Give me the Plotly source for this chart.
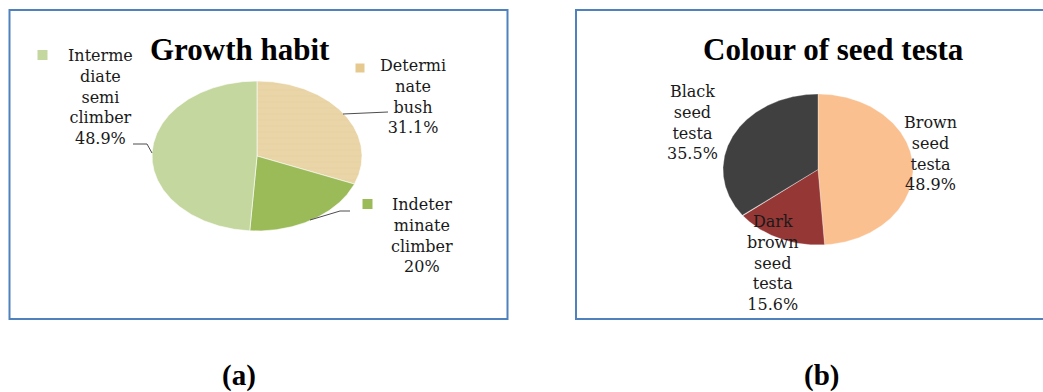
import numpy as np
import plotly.graph_objects as go

# ---- data -------------------------------------------------------------
growth_labels = ["Determi<br>nate<br>bush", "Indeter<br>minate<br>climber", "Interme<br>diate<br>semi<br>climber"]
growth_values = [31.1, 20.0, 48.9]
growth_colors = ["#E9D5A7", "#9BBB59", "#C4D79E"]

testa_labels = ["Brown<br>seed<br>testa", "Dark<br>brown<br>seed<br>testa", "Black<br>seed<br>testa"]
testa_values = [48.9, 15.6, 35.5]
testa_colors = ["#FAC090", "#953735", "#404040"]

W, H = 1043, 392


def px(x):
    return x / W


def py(y):
    return 1 - y / H


def wedge(start, frac, n_per_turn=720):
    """Polygon of a clockwise pie slice starting at 12 o'clock, unit circle."""
    a0 = np.pi / 2 - 2 * np.pi * start
    a1 = np.pi / 2 - 2 * np.pi * (start + frac)
    n = max(3, int(abs(frac) * n_per_turn))
    t = np.linspace(a0, a1, n)
    xs = np.concatenate([[0], np.cos(t), [0]])
    ys = np.concatenate([[0], np.sin(t), [0]])
    return xs, ys


fig = go.Figure()


def add_pie(values, colors, xaxis, yaxis, patterned=None, edge="rgba(255,255,255,0.6)"):
    total = float(sum(values))
    start = 0.0
    for i, (v, c) in enumerate(zip(values, colors)):
        frac = v / total
        xs, ys = wedge(start, frac)
        kw = {}
        if patterned is not None and i == patterned:
            kw["fillpattern"] = dict(shape="-", bgcolor=c, fgcolor="#DFC792",
                                     size=6, solidity=0.1)
        fig.add_trace(go.Scatter(
            x=xs, y=ys, mode="lines", fill="toself", fillcolor=c,
            line=dict(color=edge, width=1), xaxis=xaxis, yaxis=yaxis,
            hoverinfo="skip", showlegend=False, **kw))
        start += frac


add_pie(growth_values, growth_colors, "x", "y", patterned=0)
add_pie(testa_values, testa_colors, "x2", "y2", edge="rgba(255,255,255,0.3)")

axis_common = dict(visible=False, range=[-1, 1], fixedrange=True)
fig.update_layout(
    width=W, height=H,
    margin=dict(l=0, r=0, t=0, b=0),
    paper_bgcolor="white", plot_bgcolor="rgba(0,0,0,0)",
    xaxis=dict(domain=[px(152), px(362)], **axis_common),
    yaxis=dict(domain=[py(231), py(81)], **axis_common),
    xaxis2=dict(domain=[px(723), px(913)], **axis_common),
    yaxis2=dict(domain=[py(245), py(94)], **axis_common),
    showlegend=False,
)

label_font = dict(family="DejaVu Serif", size=16, color="#1a1a1a")
title_font = dict(family="Liberation Serif", size=31, color="black")
tag_font = dict(family="Liberation Serif", size=29, color="black")

annotations = []


def note(text, x, y, font, **kw):
    annotations.append(dict(text=text, x=px(x), y=py(y), xref="paper", yref="paper",
                            showarrow=False, xanchor="center", yanchor="middle",
                            align="center", font=font, **kw))


# titles
note("<b>Growth habit</b>", 239.5, 49.5, title_font)
note("<b>Colour of seed testa</b>", 833, 49.5, title_font)

# slice labels (a)
note(f"{growth_labels[2]}<br>{growth_values[2]:g}%", 100, 97, label_font)
note(f"{growth_labels[0]}<br>{growth_values[0]:g}%", 413, 96, label_font)
note(f"{growth_labels[1]}<br>{growth_values[1]:g}%", 422, 235, label_font)

# slice labels (b)
note(f"{testa_labels[0]}<br>{testa_values[0]:g}%", 930, 153, label_font)
note(f"{testa_labels[1]}<br>{testa_values[1]:g}%", 773, 263, label_font)
note(f"{testa_labels[2]}<br>{testa_values[2]:g}%", 692, 122, label_font)

# panel tags
note("<b>(a)</b>", 239, 375, tag_font)
note("<b>(b)</b>", 821, 375, tag_font)

shapes = []
border = "#4F81BD"
# panel frames
shapes.append(dict(type="rect", xref="paper", yref="paper",
                   x0=px(9.5), x1=px(507.5), y0=py(319), y1=py(10),
                   line=dict(color=border, width=2)))
shapes.append(dict(type="rect", xref="paper", yref="paper",
                   x0=px(576), x1=px(1050), y0=py(319), y1=py(10),
                   line=dict(color=border, width=2)))


def leader(points):
    path = "M " + " L ".join(f"{px(x)},{py(y)}" for x, y in points)
    shapes.append(dict(type="path", xref="paper", yref="paper", path=path,
                       line=dict(color="#4d4d4d", width=1)))


leader([(133, 144), (147, 144), (152, 153)])
leader([(343, 114), (388, 112)])
leader([(310, 220), (340, 211), (350, 211)])


def key(cx, cy, color, s=10):
    shapes.append(dict(type="rect", xref="paper", yref="paper",
                       x0=px(cx - s / 2), x1=px(cx + s / 2),
                       y0=py(cy + s / 2), y1=py(cy - s / 2),
                       fillcolor=color, line=dict(width=0)))


key(42.5, 55, growth_colors[2])
key(360, 68, "#E6C98F", s=9)
key(367.5, 204, growth_colors[1])

fig.update_layout(annotations=annotations, shapes=shapes)
fig.write_html("out.html")
